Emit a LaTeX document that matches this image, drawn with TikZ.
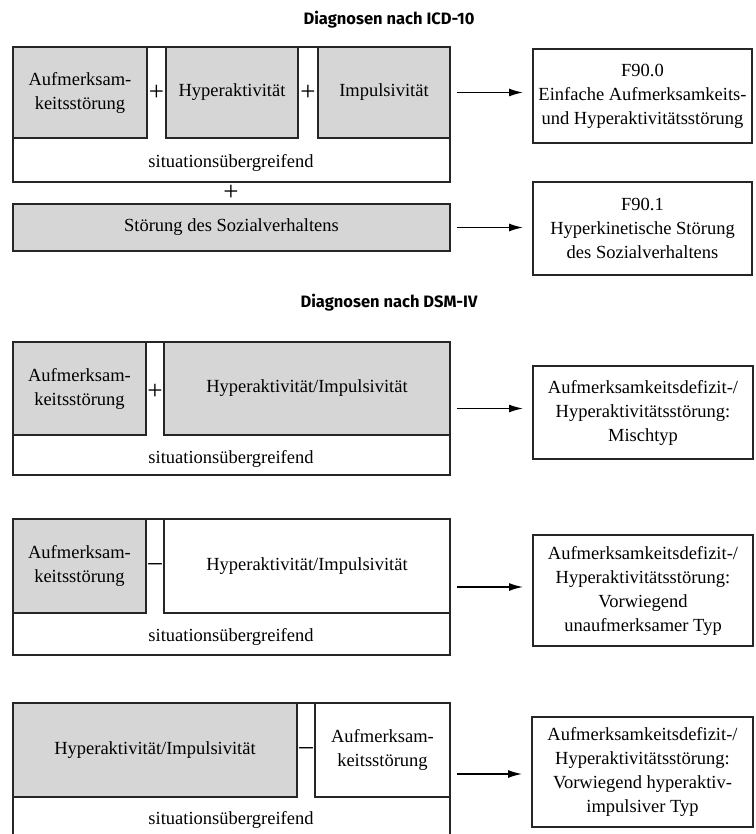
\documentclass[tikz,border=0pt]{standalone}
\usepackage{fontspec}
\setmainfont{Liberation Serif}
\newfontfamily\titlefont{Fira Sans}
\usetikzlibrary{arrows.meta}
\definecolor{boxgrey}{gray}{0.84}
\begin{document}
\begin{tikzpicture}[x=1pt,y=-1pt,
    every node/.style={inner sep=0pt,outer sep=0pt,align=center,font=\fontsize{18.5}{24}\selectfont},
    frame/.style={draw=black!85,line width=1.3pt,fill=white},
    greybox/.style={frame,fill=boxgrey},
    result/.style={frame},
    sign/.style={font=\fontsize{27}{27}\selectfont},
    heading/.style={font=\titlefont\bfseries\fontsize{16.5}{19}\selectfont},
    arr/.style={-{Latex[length=14pt,width=8pt]},line width=1.4pt,shorten <=7pt,shorten >=10pt}]
      \useasboundingbox (0,0) rectangle (755,834);
      \clip (0,0) rectangle (755,834);
      \path (389,20) node[heading] (t1) {Diagnosen nach ICD-10};
      \path (231.5,114.5) node[frame,minimum width=437pt,minimum height=135pt] (o1) {};
      \path (80,92.5) node[greybox,minimum width=134pt,minimum height=91pt] (a1) {Aufmerksam-\\keitsstörung};
      \path (232,92.5) node[greybox,minimum width=132pt,minimum height=91pt] (h1) {Hyperaktivität};
      \path (384,92.5) node[greybox,minimum width=132pt,minimum height=91pt] (i1) {Impulsivität};
      \path (156.5,93) node[sign] (p1) {+};
      \path (308,93) node[sign] (p2) {+};
      \path (231,163) node (s1) {situationsübergreifend};
      \path (231,193) node[sign] (p3) {+};
      \path (231.5,227.5) node[greybox,minimum width=437pt,minimum height=47pt] (sv) {Störung des Sozialverhaltens};
      \path (642.5,96) node[result,minimum width=219pt,minimum height=94pt] (r1) {F90.0\\Einfache Aufmerksamkeits-\\und Hyperaktivitätsstörung};
      \path (642.5,228.5) node[result,minimum width=219pt,minimum height=93pt] (r2) {F90.1\\Hyperkinetische Störung\\des Sozialverhaltens};
      \draw[arr] (i1.east) -- (i1.east -| r1.west);
      \draw[arr] (sv.east) -- (sv.east -| r2.west);
      \path (389,303) node[heading] (t2) {Diagnosen nach DSM-IV};
      \path (231.5,408.5) node[frame,minimum width=437pt,minimum height=133pt] (o2) {};
      \path (79.5,388.5) node[greybox,minimum width=133pt,minimum height=93pt] (a2) {Aufmerksam-\\keitsstörung};
      \path (307,388.5) node[greybox,minimum width=286pt,minimum height=93pt] (h2) {Hyperaktivität/Impulsivität};
      \path (155,392) node[sign] (p4) {+};
      \path (231,459) node (s2) {situationsübergreifend};
      \path (643,412.5) node[result,minimum width=220pt,minimum height=93pt] (r3) {Aufmerksamkeitsdefizit-/\\Hyperaktivitätsstörung:\\Mischtyp};
      \draw[arr] (o2.east) -- (o2.east -| r3.west);
      \path (231.5,587) node[frame,minimum width=437pt,minimum height=136pt] (o3) {};
      \path (79.5,566) node[greybox,minimum width=133pt,minimum height=94pt] (a3) {Aufmerksam-\\keitsstörung};
      \path (307,566) node[frame,minimum width=286pt,minimum height=94pt] (h3) {Hyperaktivität/Impulsivität};
      \path (155,567) node[sign] (m1) {–};
      \path (231,637) node (s3) {situationsübergreifend};
      \path (643,590.5) node[result,minimum width=220pt,minimum height=111pt] (r4) {Aufmerksamkeitsdefizit-/\\Hyperaktivitätsstörung:\\Vorwiegend\\unaufmerksamer Typ};
      \draw[arr] (o3.east) -- (o3.east -| r4.west);
      \path (231.5,774) node[frame,minimum width=437pt,minimum height=142pt] (o4) {};
      \path (155,750) node[greybox,minimum width=284pt,minimum height=94pt] (h4) {Hyperaktivität/Impulsivität};
      \path (382.5,750) node[frame,minimum width=135pt,minimum height=94pt] (a4) {Aufmerksam-\\keitsstörung};
      \path (306,751) node[sign] (m2) {–};
      \path (231,820) node (s4) {situationsübergreifend};
      \path (642.5,772) node[result,minimum width=221pt,minimum height=110pt] (r5) {Aufmerksamkeitsdefizit-/\\Hyperaktivitätsstörung:\\Vorwiegend hyperaktiv-\\impulsiver Typ};
      \draw[arr] (o4.east) -- (o4.east -| r5.west);
\end{tikzpicture}
\end{document}
